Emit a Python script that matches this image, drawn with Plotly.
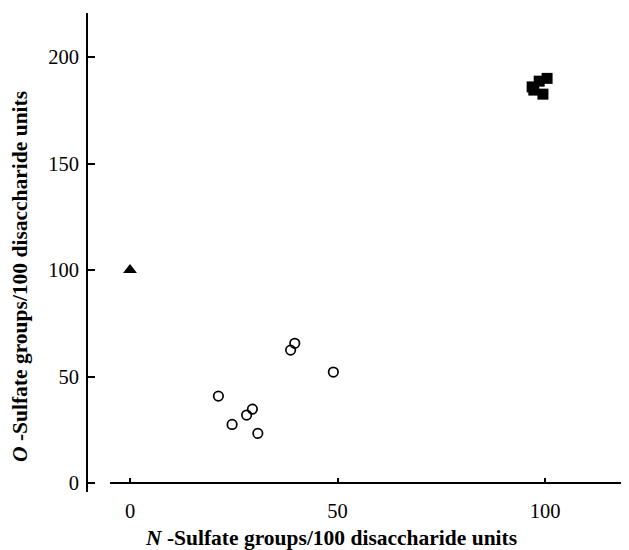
import plotly.graph_objects as go

# Data
circle_x = [21.3, 24.6, 28.1, 29.5, 30.8, 38.7, 39.7, 49.0]
circle_y = [40.8, 27.5, 31.9, 34.7, 23.3, 62.4, 65.6, 52.1]
triangle_x = [0]
triangle_y = [100]
square_x = [96.9, 98.6, 100.5, 99.5, 97.3]
square_y = [186.0, 188.7, 190.0, 182.6, 184.5]
x_ticks = [0, 50, 100]
y_ticks = [0, 50, 100, 150, 200]
x_title = "<b><i>N</i> -Sulfate groups/100 disaccharide units</b>"
y_title = "<b><i>O</i> -Sulfate groups/100 disaccharide units</b>"

font_family = "Liberation Serif, Times New Roman, serif"

# page offset compensation (body margin 8px)
W, H = 621, 542
L, T = 80, 5
PW, PH = 541, 479

fig = go.Figure()
fig.add_trace(go.Scatter(x=circle_x, y=circle_y, mode="markers",
                         marker=dict(symbol="circle-open", size=9.5, color="black",
                                     line=dict(width=1.7, color="black")),
                         showlegend=False))
fig.add_trace(go.Scatter(x=triangle_x, y=triangle_y, mode="markers",
                         marker=dict(symbol="triangle-up", size=12, color="black"),
                         showlegend=False))
fig.add_trace(go.Scatter(x=square_x, y=square_y, mode="markers",
                         marker=dict(symbol="square", size=11, color="black"),
                         showlegend=False))

fig.update_layout(
    width=W, height=H,
    margin=dict(l=L, r=W - L - PW, t=T, b=H - T - PH, pad=0),
    paper_bgcolor="white", plot_bgcolor="white",
    font=dict(family=font_family, color="black", size=20),
    xaxis=dict(range=[-10.12, 120.24], tickvals=x_ticks, ticks="inside",
               ticklen=5, tickwidth=1.5, tickcolor="black",
               showgrid=False, zeroline=False, showline=False,
               anchor="free", position=0.0188, automargin=False,
               ticklabelstandoff=14,
               tickfont=dict(size=20.5, family=font_family)),
    yaxis=dict(range=[-4.23, 220.7], tickvals=y_ticks, ticks="inside",
               ticklen=7, tickwidth=1.5, tickcolor="black",
               showgrid=False, zeroline=False, showline=True,
               linecolor="black", linewidth=2, automargin=False,
               ticklabelstandoff=3,
               tickfont=dict(size=20.5, family=font_family)),
    shapes=[dict(type="line", xref="paper", yref="y", x0=22 / PW, x1=1, y0=0, y1=0,
                 line=dict(color="black", width=2))],
    annotations=[
        dict(text=x_title, xref="paper", yref="paper", x=(331 - 88) / PW, y=-(538 - 492) / PH,
             xanchor="center", yanchor="middle", showarrow=False,
             font=dict(size=21.5, family=font_family)),
        dict(text=y_title, xref="paper", yref="paper", x=-(88 - 20) / PW, y=(492 - 277) / PH,
             xanchor="center", yanchor="middle", showarrow=False, textangle=-90,
             font=dict(size=21.5, family=font_family)),
    ],
)

fig.write_html("out.html")
